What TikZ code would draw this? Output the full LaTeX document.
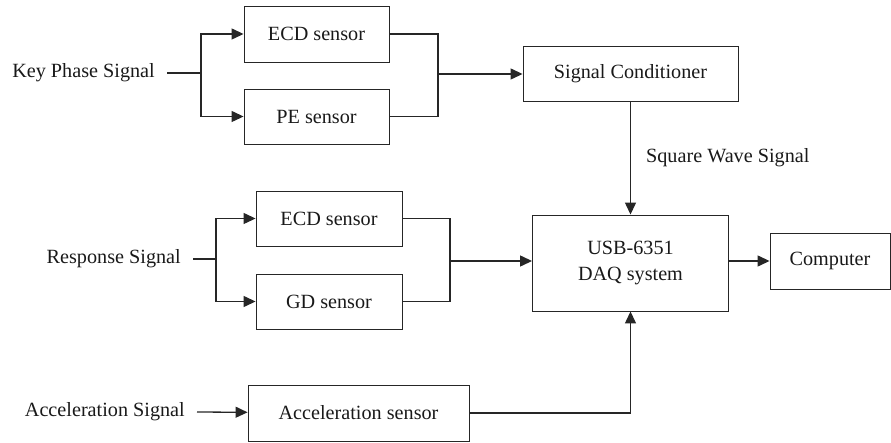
\documentclass[tikz,border=0pt]{standalone}
\usepackage{fontspec}
\setmainfont{Liberation Serif}
\usepackage{tikz}
\usetikzlibrary{arrows.meta}
\usetikzlibrary{positioning}

\begin{document}
\begin{tikzpicture}[
    x=1pt, y=-1pt,
    every node/.style={font=\fontsize{20.2}{26}\selectfont, text=black!90},
    caja/.style={draw=black!85, line width=0.9pt, inner sep=0pt, align=center},
    senal/.style={anchor=east, inner xsep=12pt, inner ysep=0pt},
    linea/.style={draw=black!85, line width=1.3pt},
    flecha/.style={linea, -{Triangle[length=12pt, width=11pt]}}
]
\useasboundingbox (0,0) rectangle (891,443);

% Cajas (posicion aproximada)
\node[caja, minimum width=145pt, minimum height=56pt] (ecdA) at (316.5,34) {ECD sensor};
\node[caja, minimum width=145pt, minimum height=55pt] (pe) at (316.5,116.5) {PE sensor};
\node[caja, minimum width=215pt, minimum height=55pt] (cond) at (630.5,73.5) {Signal Conditioner};
\node[caja, minimum width=146pt, minimum height=55pt] (ecdB) at (329,218.5) {ECD sensor};
\node[caja, minimum width=146pt, minimum height=55pt] (gd) at (329,301.5) {GD sensor};
\node[caja, minimum width=196pt, minimum height=96pt] (daq) at (630.5,263) {USB-6351\\DAQ system};
\node[caja, minimum width=120pt, minimum height=56pt] (comp) at (830,261) {Computer};
\node[caja, minimum width=221pt, minimum height=56pt] (acc) at (358.5,413) {Acceleration sensor};

% Senales de entrada
\node[senal] (kp) at (167,73) {Key Phase Signal};
\node[senal] (rs) at (193,259) {Response Signal};
\node[senal] (as) at (197,412) {Acceleration Signal};

% Puntos de union
\coordinate (kpj) at (201,73);
\coordinate (kpm) at (438,74);
\coordinate (rsj) at (216,259);
\coordinate (rsm) at (450,261);

% Conexiones
\draw[linea] (kp.east) -- (kpj);
\draw[flecha] (kpj) |- (ecdA);
\draw[flecha] (kpj) |- (pe);
\draw[linea] (ecdA) -| (kpm);
\draw[linea] (pe) -| (kpm);
\draw[flecha] (kpm) -- (cond.west |- kpm);

\draw[linea] (rs.east) -- (rsj);
\draw[flecha] (rsj) |- (ecdB);
\draw[flecha] (rsj) |- (gd);
\draw[linea] (ecdB) -| (rsm);
\draw[linea] (gd) -| (rsm);
\draw[flecha] (rsm) -- (daq.west |- rsm);

\draw[flecha] (cond) -- node[right=15pt, inner sep=0pt] {Square Wave Signal} (daq);
\draw[flecha] (daq.east |- comp) -- (comp);
\draw[flecha] (as.east) -- (acc);
\draw[flecha] (acc) -| (daq);

\end{tikzpicture}
\end{document}
